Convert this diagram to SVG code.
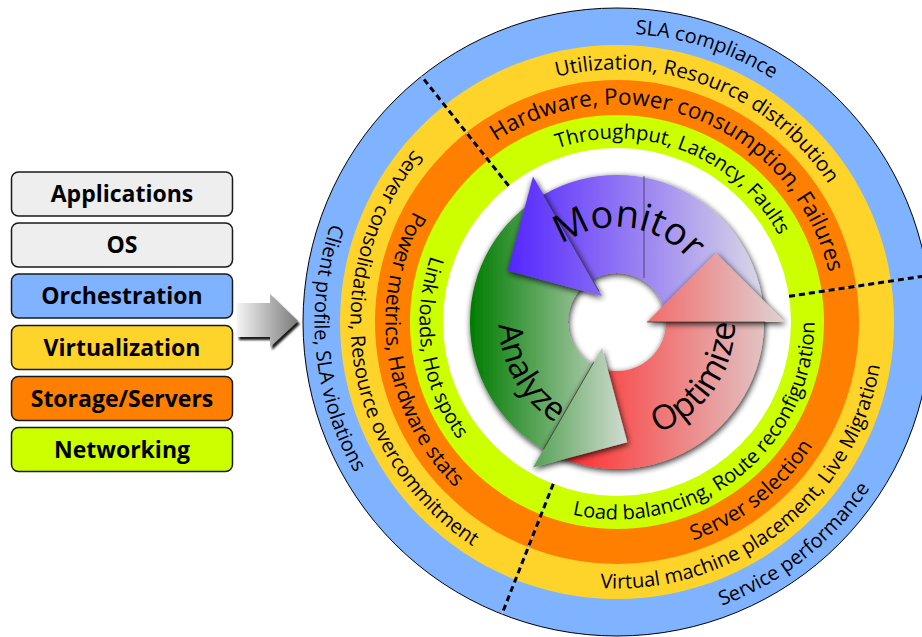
<svg xmlns="http://www.w3.org/2000/svg" width="922" height="637" viewBox="0 0 922 637">
  <style>
    .legend rect { stroke: #1a1a1a; stroke-width: 1.5; }
    .legend text { font-family: "Open Sans", "Noto Sans", sans-serif; font-weight: bold; font-size: 23px; text-anchor: middle; fill: #000; }
    .ring text { font-family: "Open Sans", "Noto Sans", sans-serif; font-size: 20px; fill: #000; }
    .ring text.big { font-size: 22.5px; }
    .ring text.mid { font-size: 20.5px; }
    .ring text.wide { font-size: 21px; }
    .cycle text { font-family: "Open Sans", "Noto Sans", sans-serif; fill: #000; }
    .divider-under { stroke: #a8c8f0; stroke-width: 1; }
    .divider { stroke: #000; stroke-width: 3; stroke-dasharray: 6 4; }
    .seam { stroke: #222; stroke-width: 0.8; fill: none; opacity: 0.8; }
  </style>
  <defs>
    <linearGradient id="gradArrow" x1="0" y1="0" x2="1" y2="0">
      <stop offset="0" stop-color="#f4f4f4"/>
      <stop offset="1" stop-color="#7a7a7a"/>
    </linearGradient>
    <linearGradient id="gradMonitor" gradientUnits="userSpaceOnUse" x1="500" y1="0" x2="768" y2="0">
      <stop offset="0" stop-color="#5020ff"/>
      <stop offset="1" stop-color="#dcdce6"/>
    </linearGradient>
    <linearGradient id="gradAnalyze" gradientUnits="userSpaceOnUse" x1="470" y1="0" x2="632" y2="0">
      <stop offset="0" stop-color="#007c00"/>
      <stop offset="1" stop-color="#d8ded8"/>
    </linearGradient>
    <linearGradient id="gradOptimize" gradientUnits="userSpaceOnUse" x1="560" y1="0" x2="790" y2="0">
      <stop offset="0" stop-color="#ff2a2a"/>
      <stop offset="1" stop-color="#ded6d6"/>
    </linearGradient>
    <filter id="shadow" x="-30%" y="-30%" width="160%" height="160%">
      <feGaussianBlur in="SourceAlpha" stdDeviation="3"/>
      <feOffset dx="1" dy="2" result="b"/>
      <feComponentTransfer><feFuncA type="linear" slope="0.85"/></feComponentTransfer>
      <feMerge><feMergeNode/><feMergeNode in="SourceGraphic"/></feMerge>
    </filter>
    <filter id="arrowShadow" x="-20%" y="-20%" width="150%" height="150%">
      <feGaussianBlur in="SourceAlpha" stdDeviation="1.2"/>
      <feOffset dx="2" dy="3"/>
      <feComponentTransfer><feFuncA type="linear" slope="0.9"/></feComponentTransfer>
      <feMerge><feMergeNode/><feMergeNode in="SourceGraphic"/></feMerge>
    </filter>

    <!-- label arcs, centred on each sector: top clockwise, left and bottom counter-clockwise -->
    <path id="topBlue" d="M 358.81 193.27 A 288.5 288.5 0 0 1 893.62 403.94"/>
    <path id="topYellow" d="M 391.03 209.33 A 252.5 252.5 0 0 1 859.10 393.72"/>
    <path id="topOrange" d="M 422.35 224.95 A 217.5 217.5 0 0 1 825.54 383.77"/>
    <path id="topGreen" d="M 452.78 240.12 A 183.5 183.5 0 0 1 792.94 374.12"/>

    <path id="leftBlue" d="M 546.38 27.86 A 302.5 302.5 0 0 0 635.47 623.93"/>
    <path id="leftYellow" d="M 554.79 62.86 A 266.5 266.5 0 0 0 633.27 588.00"/>
    <path id="leftOrange" d="M 562.96 96.90 A 231.5 231.5 0 0 0 631.13 553.07"/>
    <path id="leftGreen" d="M 570.89 129.96 A 197.5 197.5 0 0 0 629.06 519.13"/>

    <path id="botBlue" d="M 397.58 530.23 A 302.5 302.5 0 0 0 869.25 155.04"/>
    <path id="botYellow" d="M 423.69 505.45 A 266.5 266.5 0 0 0 839.23 174.91"/>
    <path id="botOrange" d="M 449.08 481.35 A 231.5 231.5 0 0 0 810.05 194.23"/>
    <path id="botGreen" d="M 473.74 457.95 A 197.5 197.5 0 0 0 781.69 212.99"/>

    <path id="arcMonitor" d="M 526.15 294.22 A 95 95 0 0 1 711.87 317.03"/>
    <path id="arcAnalyze" d="M 541.15 231.61 A 118 118 0 0 0 657.36 432.88"/>
    <path id="arcOptimize" d="M 567.13 428.94 A 118 118 0 0 0 700.44 238.56"/>
  </defs>

  <rect width="922" height="637" fill="#fff"/>

  <!-- layer stack -->
  <g class="legend">
    <g id="layer-applications">
      <rect x="11.5" y="172" width="221" height="44" rx="7" fill="#eeeeee"/>
      <text x="122" y="202">Applications</text>
    </g>
    <g id="layer-os">
      <rect x="11.5" y="223" width="221" height="44" rx="7" fill="#eeeeee"/>
      <text x="122" y="253">OS</text>
    </g>
    <g id="layer-orchestration">
      <rect x="11.5" y="274" width="221" height="44" rx="7" fill="#80b3ff"/>
      <text x="122" y="304">Orchestration</text>
    </g>
    <g id="layer-virtualization">
      <rect x="11.5" y="325.5" width="221" height="44" rx="7" fill="#ffd42a"/>
      <text x="122" y="355.5">Virtualization</text>
    </g>
    <g id="layer-storage">
      <rect x="11.5" y="376.5" width="221" height="44" rx="7" fill="#ff7f00"/>
      <text x="122" y="406.5">Storage/Servers</text>
    </g>
    <g id="layer-networking">
      <rect x="11.5" y="427.5" width="221" height="44" rx="7" fill="#ccff00"/>
      <text x="122" y="457.5">Networking</text>
    </g>
  </g>

  <!-- block arrow from the stack to the rings -->
  <g id="stack-arrow">
    <polygon points="237,303 270,303 270,294 298,321 270,347 270,337 237,337" fill="url(#gradArrow)" filter="url(#arrowShadow)"/>
  </g>

  <!-- concentric layer rings -->
  <g class="ring" id="rings">
    <circle cx="617" cy="322" r="314" fill="#80b3ff" stroke="#000" stroke-width="1"/>
    <circle cx="617" cy="322" r="277" fill="#ffd42a"/>
    <circle cx="617" cy="322" r="242" fill="#ff7f00"/>
    <circle cx="617" cy="322" r="207" fill="#ccff00"/>
    <circle cx="617" cy="322" r="174" fill="#ffffff"/>

    <g id="sector-monitor">
      <text><textPath href="#topBlue" startOffset="48%" text-anchor="middle">SLA compliance</textPath></text>
      <text class="mid"><textPath href="#topYellow" startOffset="50%" text-anchor="middle">Utilization, Resource distribution</textPath></text>
      <text class="big"><textPath href="#topOrange" startOffset="50%" text-anchor="middle">Hardware, Power consumption, Failures</textPath></text>
      <text><textPath href="#topGreen" startOffset="50%" text-anchor="middle">Throughput, Latency, Faults</textPath></text>
    </g>
    <g id="sector-analyze">
      <text><textPath href="#leftBlue" startOffset="48.2%" text-anchor="middle">Client profile, SLA violations</textPath></text>
      <text><textPath href="#leftYellow" startOffset="50%" text-anchor="middle">Server consolidation, Resource overcommitment</textPath></text>
      <text class="wide"><textPath href="#leftOrange" startOffset="50%" text-anchor="middle">Power metrics, Hardware stats</textPath></text>
      <text><textPath href="#leftGreen" startOffset="50%" text-anchor="middle">Link loads, Hot spots</textPath></text>
    </g>
    <g id="sector-optimize">
      <text><textPath href="#botBlue" startOffset="50%" text-anchor="middle">Service performance</textPath></text>
      <text><textPath href="#botYellow" startOffset="50%" text-anchor="middle">Virtual machine placement, Live Migration</textPath></text>
      <text class="wide"><textPath href="#botOrange" startOffset="50%" text-anchor="middle">Server selection</textPath></text>
      <text><textPath href="#botGreen" startOffset="50%" text-anchor="middle">Load balancing, Route reconfiguration</textPath></text>
    </g>
  </g>

  <!-- sector dividers -->
  <g id="connectors">
    <line class="divider-under" x1="508.68" y1="185.83" x2="421.53" y2="76.26"/>
    <line class="divider" x1="508.68" y1="185.83" x2="421.53" y2="76.26"/>
    <line class="divider-under" x1="789.09" y1="296.28" x2="927.55" y2="275.59"/>
    <line class="divider" x1="789.09" y1="296.28" x2="927.55" y2="275.59"/>
    <line class="divider-under" x1="553.23" y1="483.89" x2="501.92" y2="614.15"/>
    <line class="divider" x1="553.23" y1="483.89" x2="501.92" y2="614.15"/>
  </g>

  <!-- control cycle -->
  <g class="cycle" id="cycle">
    <g id="bodies" filter="url(#shadow)">
      <path id="body-monitor" d="M 543.5 194.69 A 147 147 0 0 1 764 322 L 666 322 A 49 49 0 0 0 592.5 279.56 Z" fill="url(#gradMonitor)"/>
      <path id="body-analyze" d="M 543.5 449.31 A 147 147 0 0 1 543.5 194.69 L 592.5 279.56 A 49 49 0 0 0 592.5 364.44 Z" fill="url(#gradAnalyze)"/>
      <path id="body-optimize" d="M 764 322 A 147 147 0 0 1 543.5 449.31 L 592.5 364.44 A 49 49 0 0 0 666 322 Z" fill="url(#gradOptimize)"/>
    </g>
    <line class="seam" x1="644" y1="176" x2="644" y2="278"/>

    <g id="monitor">
      <polygon points="602,296.02 533,176.51 507.74,270.76" fill="url(#gradMonitor)" filter="url(#shadow)"/>
      <line class="seam" x1="599" y1="291.2" x2="543.5" y2="194.69"/>
      <text font-size="38"><textPath href="#arcMonitor" startOffset="50%" text-anchor="middle">Monitor</textPath></text>
    </g>
    <g id="analyze">
      <polygon points="602,347.98 533,467.49 627.26,442.24" fill="url(#gradAnalyze)" filter="url(#shadow)"/>
      <line class="seam" x1="594" y1="361.8" x2="543.5" y2="449.31"/>
      <text font-size="33"><textPath href="#arcAnalyze" startOffset="50%" text-anchor="middle">Analyze</textPath></text>
    </g>
    <g id="optimize">
      <polygon points="647,322 785,322 716,253" fill="url(#gradOptimize)" filter="url(#shadow)"/>
      <line class="seam" x1="647" y1="322" x2="765" y2="322"/>
      <text font-size="34"><textPath href="#arcOptimize" startOffset="50%" text-anchor="middle">Optimize</textPath></text>
    </g>
  </g>
</svg>
